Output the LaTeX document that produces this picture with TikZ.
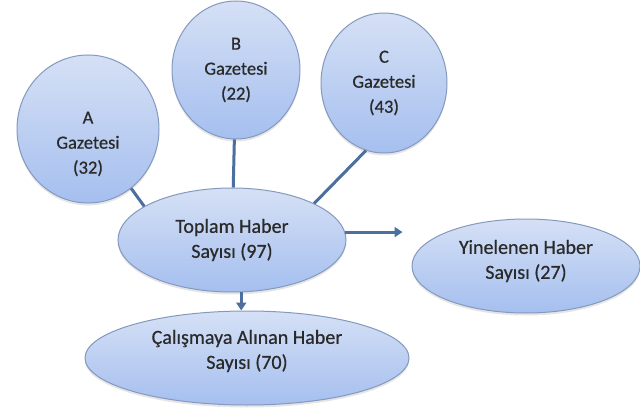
\documentclass[tikz,border=0pt]{standalone}
\usepackage{fontspec}
\setmainfont[FakeBold=0.6]{Carlito}
\usetikzlibrary{shapes.geometric,arrows.meta,shadows}
\definecolor{fillTop}{HTML}{D5E0F5}
\definecolor{fillBot}{HTML}{A5BFEF}
\definecolor{rim}{HTML}{8599BE}
\definecolor{link}{HTML}{4B6F9E}
\definecolor{ink}{HTML}{2A2A2A}
\begin{document}
\begin{tikzpicture}[x=1pt,y=-1pt,
  bubble/.style={ellipse, draw=rim, line width=1pt, top color=fillTop, bottom color=fillBot,
    inner sep=0pt, align=center, text=ink,
    drop shadow={opacity=0.2, shadow xshift=0pt, shadow yshift=-2.5pt}},
  small/.style={font=\fontsize{18.5}{25}\selectfont},
  big/.style={font=\fontsize{20}{25}\selectfont},
  words/.style={align=center, text=ink, inner sep=0pt},
  conn/.style={draw=link, line width=3pt},
  arr/.style={draw=link, line width=3pt, -{Triangle[length=8pt,width=10pt]}}]
\useasboundingbox (0,0) rectangle (640,409);
\fill[white] (0,0) rectangle (640,409);
\node[bubble, minimum width=142pt, minimum height=148pt] (A) at (88,129) {};
\node[words, small] (Atext) at ([yshift=-15pt]A.center) {A\\Gazetesi\\(32)};
\node[bubble, small, minimum width=128pt, minimum height=138pt] (B) at (236,70) {B\\Gazetesi\\(22)};
\node[bubble, small, minimum width=126pt, minimum height=140pt] (C) at (384,83) {C\\Gazetesi\\(43)};
\node[bubble, big, minimum width=228pt, minimum height=104pt] (T) at (232,240) {Toplam Haber\\Sayısı (97)};
\node[bubble, minimum width=228pt, minimum height=94pt] (Y) at (526,266) {};
\node[words, big] (Ytext) at ([yshift=5pt]Y.center) {Yinelenen Haber\\Sayısı (27)};
\node[bubble, minimum width=324pt, minimum height=94pt] (Cal) at (247,358) {};
\node[words, big] (Caltext) at ([yshift=7pt]Cal.center) {Çalışmaya Alınan Haber\\Sayısı (70)};
\draw[conn] (A) -- (T.159);
\draw[conn] (B) -- (T);
\draw[conn] (C.255) -- (T.24);
\draw[arr] (T.4) -- ([xshift=-9pt]Y.west |- T.4);
\draw[arr] (T.280) -- (T.280 |- Cal.north);
\end{tikzpicture}
\end{document}
